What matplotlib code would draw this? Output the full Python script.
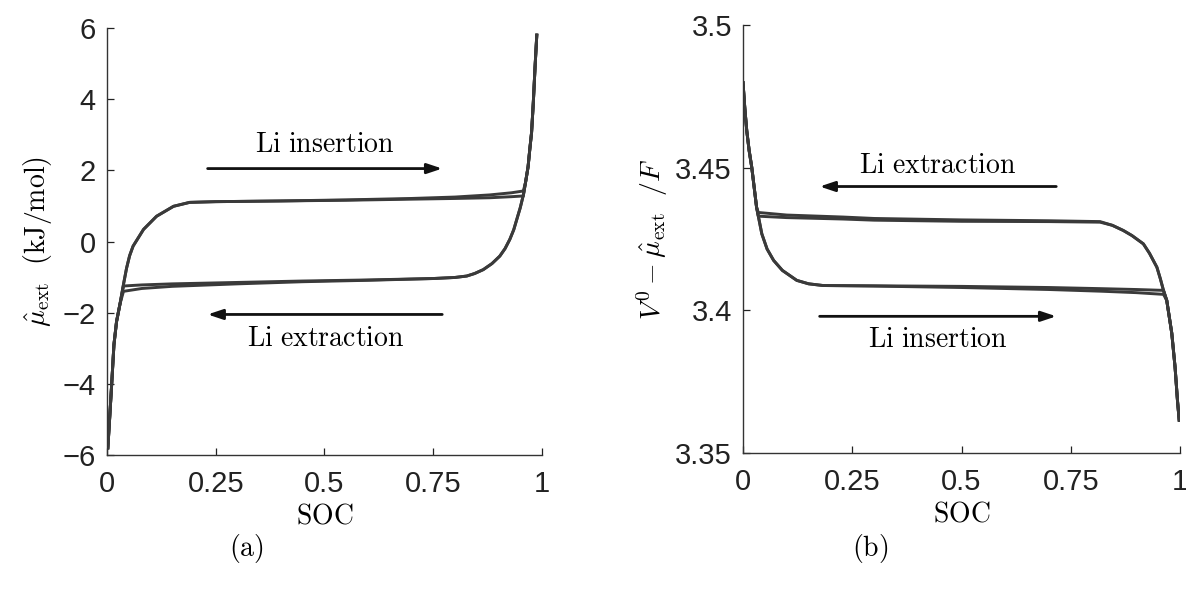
import matplotlib
matplotlib.use("Agg")
import matplotlib.pyplot as plt

plt.rcParams['mathtext.fontset'] = 'cm'
plt.rcParams['font.family'] = ['Liberation Sans', 'DejaVu Sans']

# ---------------- data: panel (a) ----------------
soc_ins_a = [0.002, 0.006, 0.011, 0.016, 0.022, 0.030, 0.038, 0.045, 0.052, 0.060, 0.084, 0.114, 0.153,
             0.19, 0.25, 0.40, 0.55, 0.70, 0.80, 0.88, 0.93, 0.957,
             0.962, 0.968, 0.972, 0.976, 0.980, 0.984, 0.988]
mu_ins_1 = [-5.8, -5.0, -3.97, -2.9, -2.25, -1.75, -1.2, -0.75, -0.4, -0.13, 0.34, 0.71, 0.99,
            1.10, 1.12, 1.14, 1.16, 1.19, 1.21, 1.23, 1.26, 1.28,
            1.65, 2.1, 2.6, 3.06, 3.9, 4.9, 5.8]
mu_ins_2 = [-5.8, -5.0, -3.97, -2.9, -2.25, -1.75, -1.2, -0.75, -0.4, -0.13, 0.34, 0.71, 0.99,
            1.10, 1.12, 1.14, 1.17, 1.21, 1.25, 1.31, 1.37, 1.42,
            1.65, 2.1, 2.6, 3.06, 3.9, 4.9, 5.8]

soc_ext_a = [0.988, 0.984, 0.980, 0.976, 0.972, 0.968, 0.962, 0.957, 0.950, 0.942, 0.935, 0.926,
             0.915, 0.903, 0.885, 0.865, 0.845, 0.827, 0.80, 0.75, 0.60, 0.45, 0.30, 0.15,
             0.08, 0.038, 0.030, 0.022, 0.016, 0.011, 0.006, 0.002]
mu_ext_1 = [5.8, 4.9, 3.9, 3.06, 2.6, 2.1, 1.65, 1.30, 0.95, 0.62, 0.33, 0.06,
            -0.20, -0.41, -0.62, -0.79, -0.90, -0.97, -1.01, -1.04, -1.08, -1.11, -1.15, -1.19,
            -1.22, -1.25, -1.75, -2.25, -2.9, -3.97, -5.0, -5.8]
mu_ext_2 = [5.8, 4.9, 3.9, 3.06, 2.6, 2.1, 1.65, 1.30, 0.95, 0.62, 0.33, 0.06,
            -0.20, -0.41, -0.62, -0.79, -0.90, -0.97, -1.01, -1.04, -1.09, -1.13, -1.19, -1.26,
            -1.32, -1.40, -1.75, -2.25, -2.9, -3.97, -5.0, -5.8]

# ---------------- data: panel (b) ----------------
soc_ins_b = [0.000, 0.004, 0.0085, 0.014, 0.020, 0.031, 0.043, 0.055, 0.070, 0.090, 0.123, 0.150,
             0.183, 0.30, 0.50, 0.70, 0.82, 0.90, 0.962, 0.9695, 0.975, 0.981, 0.9886, 0.994, 0.998]
v_ins_1 = [3.4798, 3.471, 3.463, 3.456, 3.4501, 3.4361, 3.4268, 3.4215, 3.4175, 3.4140, 3.4105, 3.4093,
           3.4087, 3.4086, 3.4084, 3.4080, 3.4076, 3.4073, 3.4070, 3.4035, 3.398, 3.392, 3.380,
           3.3685, 3.3615]
v_ins_2 = [3.4798, 3.471, 3.463, 3.456, 3.4501, 3.4361, 3.4268, 3.4215, 3.4175, 3.4140, 3.4105, 3.4093,
           3.4087, 3.4085, 3.4080, 3.4073, 3.4067, 3.4062, 3.4056, 3.4035, 3.398, 3.392, 3.380,
           3.3685, 3.3615]

soc_ext_b = [0.998, 0.994, 0.9886, 0.981, 0.975, 0.9695, 0.962, 0.955, 0.947, 0.93, 0.916, 0.89,
             0.87, 0.845, 0.817, 0.70, 0.50, 0.30, 0.229, 0.10, 0.035, 0.031, 0.020, 0.014,
             0.0085, 0.004, 0.000]
v_ext_1 = [3.3615, 3.3685, 3.380, 3.392, 3.398, 3.4035, 3.4070, 3.411, 3.4151, 3.4200, 3.4233, 3.4262,
           3.4280, 3.4298, 3.4309, 3.4311, 3.4312, 3.4316, 3.4320, 3.4325, 3.4330, 3.4361, 3.4501, 3.456,
           3.463, 3.471, 3.4798]
v_ext_2 = [3.3615, 3.3685, 3.380, 3.392, 3.398, 3.4035, 3.4070, 3.411, 3.4151, 3.4200, 3.4233, 3.4262,
           3.4280, 3.4298, 3.4311, 3.4314, 3.4317, 3.4322, 3.4327, 3.4334, 3.4343, 3.4361, 3.4501, 3.456,
           3.463, 3.471, 3.4798]

xticks = [0, 0.25, 0.5, 0.75, 1]
xtick_labels = ['0', '0.25', '0.5', '0.75', '1']
yticks_a = [-6, -4, -2, 0, 2, 4, 6]
yticks_b = [3.35, 3.4, 3.45, 3.5]
ytick_labels_b = ['3.35', '3.4', '3.45', '3.5']

line_color = '#3a3a3a'
tick_fs = 21
text_fs = 20

fig = plt.figure(figsize=(11.86, 5.90), dpi=100)
axa = fig.add_axes([0.0902, 0.2288, 0.3668, 0.7237])
axb = fig.add_axes([0.6265, 0.2322, 0.3685, 0.7254])


def style(ax):
    for s in ['top', 'right']:
        ax.spines[s].set_visible(False)
    for s in ['left', 'bottom']:
        ax.spines[s].set_linewidth(1.0)
        ax.spines[s].set_color('#333333')
    ax.tick_params(direction='in', length=5, width=0.9, labelsize=tick_fs, colors='#222222')
    ax.tick_params(axis='x', pad=11)
    ax.tick_params(axis='y', pad=8)
    ax.set_xticks(xticks)
    ax.set_xticklabels(xtick_labels)
    ax.set_xlim(0, 1)
    ax.set_xlabel(r'$\mathrm{SOC}$', fontsize=text_fs, labelpad=4)


style(axa)
style(axb)

lw = 2.1
# panel (a)
for y in (mu_ins_1, mu_ins_2):
    axa.plot(soc_ins_a, y, color=line_color, lw=lw, solid_joinstyle='round')
for y in (mu_ext_1, mu_ext_2):
    axa.plot(soc_ext_a, y, color=line_color, lw=lw, solid_joinstyle='round')
axa.set_ylim(-6, 6)
axa.set_yticks(yticks_a)
axa.set_ylabel(r'$\hat{\mu}_{\rm ext}\ \ \mathrm{(kJ/mol)}$', fontsize=text_fs, labelpad=6)

arrow_kw = dict(arrowstyle='-|>,head_length=0.9,head_width=0.3', color='#111111', lw=2.0)
axa.annotate('', xy=(0.777, 2.05), xytext=(0.225, 2.05), arrowprops=arrow_kw)
axa.text(0.5, 2.72, r'$\mathrm{Li\ insertion}$', ha='center', va='center', fontsize=text_fs)
axa.annotate('', xy=(0.225, -2.05), xytext=(0.777, -2.05), arrowprops=arrow_kw)
axa.text(0.503, -2.75, r'$\mathrm{Li\ extraction}$', ha='center', va='center', fontsize=text_fs)

# panel (b)
for y in (v_ins_1, v_ins_2):
    axb.plot(soc_ins_b, y, color=line_color, lw=lw, solid_joinstyle='round')
for y in (v_ext_1, v_ext_2):
    axb.plot(soc_ext_b, y, color=line_color, lw=lw, solid_joinstyle='round')
axb.set_ylim(3.35, 3.5)
axb.set_yticks(yticks_b)
axb.set_yticklabels(ytick_labels_b)
axb.set_ylabel(r'$V^0 - \hat{\mu}_{\rm ext}\ \ /F$', fontsize=text_fs, labelpad=4)

axb.annotate('', xy=(0.169, 3.4434), xytext=(0.723, 3.4434), arrowprops=arrow_kw)
axb.text(0.446, 3.4507, r'$\mathrm{Li\ extraction}$', ha='center', va='center', fontsize=text_fs)
axb.annotate('', xy=(0.723, 3.3979), xytext=(0.169, 3.3979), arrowprops=arrow_kw)
axb.text(0.446, 3.3895, r'$\mathrm{Li\ insertion}$', ha='center', va='center', fontsize=text_fs)

fig.text(0.208, 0.071, r'$\mathrm{(a)}$', ha='center', va='center', fontsize=text_fs)
fig.text(0.7336, 0.071, r'$\mathrm{(b)}$', ha='center', va='center', fontsize=text_fs)

fig.savefig('out.png', dpi=100)
